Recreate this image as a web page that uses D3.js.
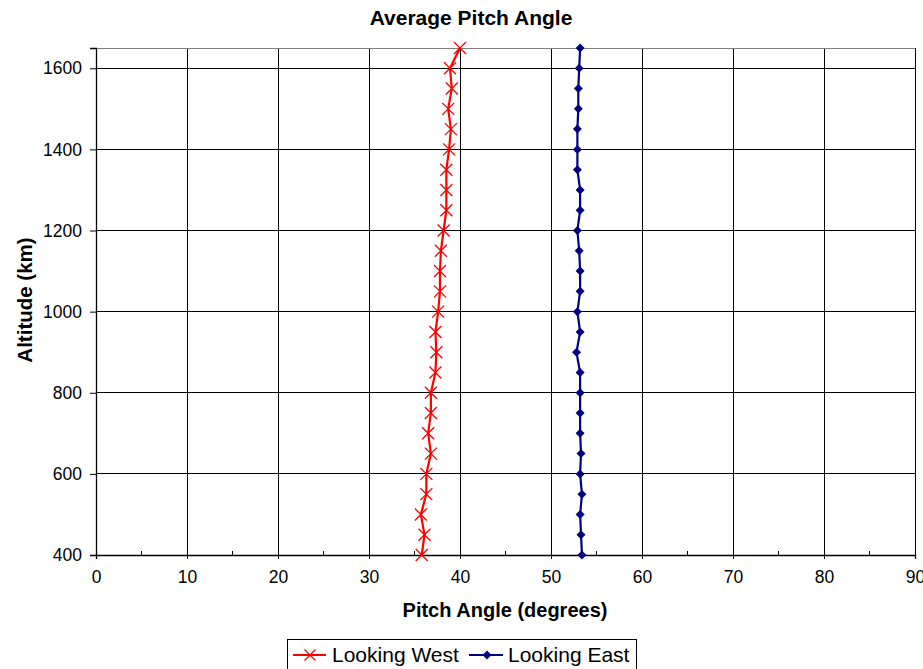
<!DOCTYPE html>
<html><head><meta charset="utf-8">
<script src="https://cdn.jsdelivr.net/npm/d3@7"></script>
<style>body{margin:0;background:#fff;}svg{display:block;font-family:Arial,"Liberation Sans",sans-serif;}</style>
</head><body>
<svg id="c" width="923" height="669"></svg>
<script>
const altitudes = [400,450,500,550,600,650,700,750,800,850,900,950,1000,1050,1100,1150,1200,1250,1300,1350,1400,1450,1500,1550,1600,1650];
const lookingWest = [35.8,36.1,35.7,36.3,36.3,36.8,36.5,36.8,36.8,37.3,37.4,37.3,37.6,37.8,37.8,37.9,38.2,38.5,38.5,38.5,38.8,39.0,38.7,39.1,38.9,40.0];
const lookingEast = [53.4,53.3,53.2,53.4,53.2,53.3,53.2,53.2,53.2,53.2,52.8,53.2,52.9,53.2,53.2,53.1,52.9,53.2,53.2,52.9,52.9,52.9,53.0,53.0,53.1,53.2];
const xTicks = [0,10,20,30,40,50,60,70,80,90];
const yTicks = [400,600,800,1000,1200,1400,1600];

const FONT = "Arial, 'Liberation Sans', sans-serif";
const svg = d3.select("#c");
const L=96, R=915, T=48, B=555;
const x = d3.scaleLinear().domain([0,90]).range([L,R]);
const y = d3.scaleLinear().domain([400,1650]).range([B,T]);

// grid
svg.append("g").selectAll("line").data(xTicks.slice(1)).join("line")
  .attr("x1",d=>x(d)).attr("x2",d=>x(d)).attr("y1",T).attr("y2",B)
  .attr("stroke","#000").attr("stroke-width",1).attr("shape-rendering","crispEdges");
svg.append("g").selectAll("line").data(yTicks.slice(1)).join("line")
  .attr("x1",L).attr("x2",R).attr("y1",d=>y(d)).attr("y2",d=>y(d))
  .attr("stroke","#000").attr("stroke-width",1).attr("shape-rendering","crispEdges");
svg.append("line").attr("x1",L).attr("x2",R).attr("y1",T).attr("y2",T).attr("stroke","#808080").attr("shape-rendering","crispEdges");

// axes
const xAxis = svg.append("g").attr("transform",`translate(0,${B})`)
  .call(d3.axisBottom(x).tickValues(xTicks).tickSize(4).tickPadding(12));
const yAxis = svg.append("g").attr("transform",`translate(${L},0)`)
  .call(d3.axisLeft(y).tickValues(yTicks).tickFormat(d3.format("d")).tickSize(6).tickPadding(8));
[xAxis,yAxis].forEach(a=>{
  a.attr("font-size",null).attr("font-family",null);
  a.select(".domain").attr("stroke","#000").attr("stroke-width",1.3);
  a.selectAll(".tick line").attr("stroke","#000");
  a.selectAll("text").style("font-size","17.5px").attr("fill","#000").style("font-family",FONT);
});
xAxis.selectAll(".tick line").attr("y1",-4).attr("y2",4);
// minor x ticks
svg.append("g").selectAll("line").data(d3.range(5,90,10)).join("line")
  .attr("x1",d=>x(d)).attr("x2",d=>x(d)).attr("y1",B-4).attr("y2",B)
  .attr("stroke","#000").attr("shape-rendering","crispEdges");

// lines
const line = d3.line().x(d=>x(d[1])).y(d=>y(d[0]));
const west = altitudes.map((a,i)=>[a,lookingWest[i]]);
const east = altitudes.map((a,i)=>[a,lookingEast[i]]);
svg.append("path").datum(west).attr("d",line).attr("fill","none").attr("stroke","#ff0000").attr("stroke-width",2.2);
svg.append("path").datum(east).attr("d",line).attr("fill","none").attr("stroke","#000080").attr("stroke-width",2.2);

function xMark(g,cx,cy,s){
  g.append("path").attr("d",`M${cx-s},${cy-s}L${cx+s},${cy+s}M${cx-s},${cy+s}L${cx+s},${cy-s}`)
   .attr("stroke","#ff0000").attr("stroke-width",1.3).attr("fill","none");
}
function diamond(g,cx,cy,s){
  g.append("path").attr("d",`M${cx},${cy-s}L${cx+s},${cy}L${cx},${cy+s}L${cx-s},${cy}Z`).attr("fill","#000080");
}
const mw = svg.append("g");
west.forEach(d=>xMark(mw,x(d[1]),y(d[0]),6));
const me = svg.append("g");
east.forEach(d=>diamond(me,x(d[1]),y(d[0]),4.5));

// titles
svg.append("text").attr("x",471).attr("y",25).attr("text-anchor","middle").attr("font-weight","bold").style("font-size","21px").style("font-family",FONT).text("Average Pitch Angle");
svg.append("text").attr("x",505).attr("y",617).attr("text-anchor","middle").attr("font-weight","bold").style("font-size","20px").style("font-family",FONT).text("Pitch Angle (degrees)");
svg.append("text").attr("transform","translate(32,300) rotate(-90)").attr("text-anchor","middle").attr("font-weight","bold").style("font-size","20.5px").style("font-family",FONT).text("Altitude (km)");

// legend
const lg = svg.append("g");
lg.append("rect").attr("x",287.5).attr("y",639.5).attr("width",349).attr("height",40).attr("fill","#fff").attr("stroke","#000");
lg.append("line").attr("x1",293).attr("x2",326).attr("y1",655).attr("y2",655).attr("stroke","#ff0000").attr("stroke-width",2);
xMark(lg,310,655,5.5);
lg.append("text").attr("x",332).attr("y",662).style("font-size","21px").style("font-family",FONT).text("Looking West");
lg.append("line").attr("x1",469).attr("x2",503).attr("y1",655).attr("y2",655).attr("stroke","#000080").attr("stroke-width",2);
diamond(lg,487,655,4.5);
lg.append("text").attr("x",508).attr("y",662).style("font-size","21px").style("font-family",FONT).text("Looking East");
</script>
</body></html>
